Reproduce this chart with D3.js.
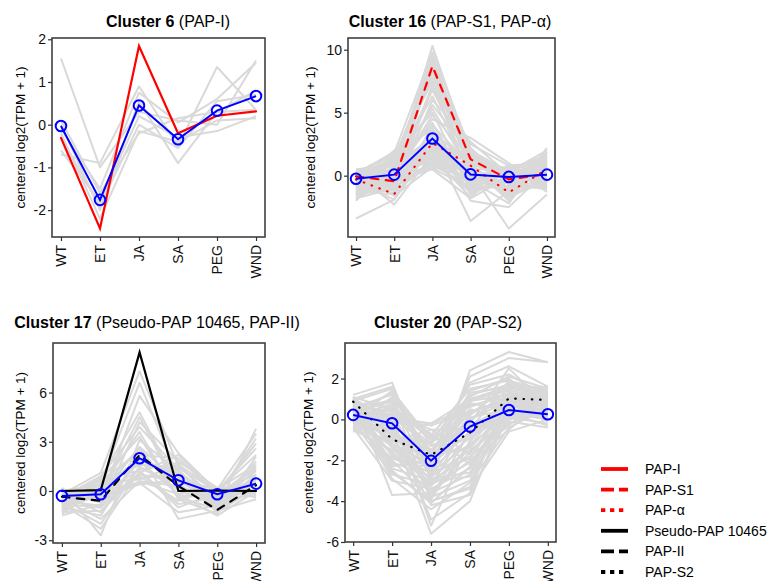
<!DOCTYPE html>
<html>
<head>
<meta charset="utf-8">
<script src="https://cdn.jsdelivr.net/npm/d3@7"></script>
<style>
  body { margin: 0; background: #fff; }
  text { font-family: "Liberation Sans", Arial, sans-serif; }
</style>
</head>
<body>
<svg id="chart" width="769" height="581"></svg>
<script>
const conditions = ["WT", "ET", "JA", "SA", "PEG", "WND"];

// Cluster 6: member genes (grey), cluster mean (blue), highlighted genes
const c6Members = [
  [1.55, -1.0, 0.3, 0.1, 0.0, 1.5],
  [-0.7, -0.9, 0.9, -0.5, 1.35, 0.35],
  [-0.1, -1.5, 0.75, 0.05, 0.6, 1.45],
  [0.0, -2.0, 0.55, -0.9, 0.3, 0.8],
  [-0.6, -1.8, 0.2, -0.3, -0.15, 0.2],
  [-0.2, -2.2, -0.15, -0.4, 0.1, 0.15],
  [0.1, -1.6, -0.2, 0.15, 0.3, 0.35],
  [-0.3, -1.9, 0.0, -0.55, 0.55, 0.7]
];
const c6Mean = [-0.03, -1.76, 0.45, -0.34, 0.33, 0.67];
const c6Genes = [
  { gene: "PAP-I", values: [-0.31, -2.43, 1.84, -0.2, 0.21, 0.31] }
];

// Cluster 16
const c16Members = [
  [-0.5, 0.3, 10.3, 1.5, -0.5, 0.2],
  [0.2, 1.8, 9.8, 2.0, 0.3, -0.3],
  [-1.0, 0.5, 9.2, 0.5, -1.0, 0.8],
  [0.4, -0.5, 8.5, 1.0, 0.6, -0.8],
  [-1.5, 1.2, 7.8, -0.5, -0.3, 1.5],
  [-0.3, -1.0, 7.0, 2.5, 0.8, 0.3],
  [-1.8, 0.8, 6.3, 0.0, -1.5, -0.5],
  [0.0, -0.2, 5.6, 1.8, 0.2, 1.0],
  [-0.8, 1.5, 5.0, -1.0, -0.8, 0.6],
  [0.5, 0.0, 4.5, 3.0, 1.0, -1.2],
  [-1.2, -1.5, 4.0, 0.8, -2.0, 2.2],
  [-0.6, 2.0, 3.6, -1.5, 0.0, -0.2],
  [-3.4, -1.9, 3.3, -0.3, -0.6, 1.8],
  [0.1, 0.9, 3.0, -2.0, -2.5, 0.4],
  [-1.6, -0.8, 2.8, 1.2, 0.5, -1.0],
  [-0.2, 1.0, 2.6, -3.6, -1.2, 0.9],
  [-1.9, 0.2, 2.4, 0.3, -4.2, -1.5],
  [0.3, -1.2, 2.2, -0.8, 0.4, 1.2],
  [-1.1, 1.6, 2.0, 0.6, -1.8, 0.0],
  [-0.4, -0.6, 1.9, -1.2, 0.9, -0.6],
  [-1.4, 0.6, 1.8, 1.6, -0.2, 1.4],
  [0.2, -2.3, 1.7, -0.6, 0.1, -0.4],
  [-0.9, 1.3, 1.6, 0.9, -1.4, 0.7],
  [-0.1, 0.4, 1.5, -1.7, 0.7, -1.3],
  [-1.7, -0.3, 1.4, 0.2, -0.9, 0.5],
  [0.4, 1.1, 1.3, -0.4, -2.2, 1.9],
  [-0.7, -1.4, 1.2, 1.4, 0.3, -0.9],
  [-1.3, 0.7, 1.1, -1.3, -0.4, 0.1],
  [0.0, -0.9, 1.0, 0.4, -1.6, 1.1],
  [-2.0, 1.4, 0.9, -0.9, 0.6, -0.1],
  [-0.5, -0.1, 0.8, 2.2, -0.7, 1.6],
  [0.3, -1.6, 0.7, -0.2, 0.2, -0.7],
  [-1.0, 0.1, 0.6, 0.7, -1.1, 0.3],
  [-0.3, -0.4, 0.5, -1.8, -0.1, -0.2],
  [-1.5, 0.5, 2.5, 1.1, -0.5, 0.8],
  [0.1, -0.7, 3.2, -0.7, 0.4, -0.5],
  [-0.8, 1.0, 1.5, 0.1, -1.3, 1.0],
  [-0.2, -1.1, 2.1, 1.7, 0.0, -0.3],
  [-1.2, 0.3, 4.2, -1.1, -0.8, 0.6],
  [0.5, 0.8, 1.9, 0.5, 0.5, -0.8],
  [-0.6, 0.9, 9.5, 1.2, -0.2, 0.4],
  [0.0, -0.4, 9.0, 0.8, 0.5, -0.5],
  [-1.1, 1.4, 8.8, 2.2, -0.7, 1.1],
  [-0.2, 0.2, 8.2, 0.2, 0.2, 0.0],
  [0.3, 1.6, 7.5, 1.6, -1.2, 0.9],
  [-1.4, -0.6, 7.2, -0.2, 0.7, -0.6],
  [-0.4, 0.6, 6.8, 1.0, -0.4, 1.3],
  [-0.9, -1.2, 6.0, 2.7, 0.1, 0.2],
  [0.2, 1.1, 5.3, 0.4, -1.0, -0.9],
  [-1.6, 0.0, 4.8, 1.4, 0.4, 1.7],
  [-0.7, 1.7, 3.8, -0.6, -0.3, 0.5],
  [0.4, -0.9, 3.5, 0.9, -1.7, -0.4],
  [-1.3, 0.4, 2.9, -1.4, 0.8, 1.0],
  [-0.5, -1.9, 2.3, 0.0, -0.6, -1.1],
  [0.1, 1.9, 1.8, 1.9, -0.1, 0.6],
  [-1.8, -1.0, 1.2, -0.5, 0.3, 2.0],
  [-0.3, 0.9, 0.9, 0.6, -1.0, -0.3],
  [-1.0, -0.5, 0.6, -1.0, 0.6, 1.4],
  [0.2, 0.1, 1.4, 1.0, -0.2, 0.2],
  [-0.8, 1.2, 2.7, 0.3, -0.9, -0.7]
];
const c16Mean = [-0.24, 0.08, 2.95, 0.1, -0.1, 0.08];
const c16Genes = [
  { gene: "PAP-S1", values: [-0.05, -0.45, 8.7, 1.3, -0.3, 0.15] },
  { gene: "PAP-α", values: [-0.3, -1.46, 2.6, 0.8, -1.33, 0.5] }
];

// Cluster 17
const c17Members = [
  [-0.2, 1.1, 7.3, 1.5, -0.5, 0.5],
  [-0.8, 0.5, 6.6, 0.8, -1.0, 3.8],
  [0.1, -0.5, 5.8, 2.3, 0.0, 1.0],
  [-1.2, 0.8, 4.8, 0.2, -0.3, 3.2],
  [-0.5, -1.0, 4.2, 1.8, 0.2, -0.2],
  [-1.4, 0.2, 3.6, -0.5, -1.4, 2.1],
  [0.2, -2.7, 3.1, 1.2, -0.6, 0.8],
  [-0.9, -0.3, 2.7, 0.5, 0.1, 1.6],
  [-0.3, 0.6, 2.4, -1.7, -1.2, -0.5],
  [-1.0, -1.5, 2.2, 2.0, -0.2, 0.3],
  [-0.6, 0.1, 2.0, 0.9, -0.8, 1.3],
  [-1.5, -0.8, 1.8, -0.2, -1.5, 0.0],
  [0.0, 0.4, 1.6, 1.4, 0.0, 2.6],
  [-0.7, -2.0, 1.5, 0.1, -0.4, -0.3],
  [-1.1, -0.2, 1.3, 1.7, -1.0, 1.0],
  [-0.4, 0.9, 1.2, -1.0, -0.1, 0.6],
  [-1.3, -1.2, 1.0, 0.6, -0.7, 1.8],
  [-0.1, -0.6, 0.9, -0.6, 0.2, -0.4],
  [-0.9, 0.3, 0.8, 1.0, -1.3, 0.2],
  [-0.5, -1.7, 0.6, 0.3, -0.5, 1.2],
  [-1.2, 0.0, 0.5, -1.3, -0.9, 0.4],
  [0.1, -0.4, 0.4, 0.7, 0.1, -0.1],
  [-0.8, -1.0, 1.1, 2.2, -0.2, 2.9],
  [-0.3, 0.7, 3.3, -0.4, -1.1, 0.7],
  [-0.6, -0.9, 1.9, 1.1, -0.6, 0.9],
  [-1.0, 0.2, 2.6, -0.3, -0.3, 1.5],
  [-0.2, -1.3, 1.4, 0.4, -1.0, 0.1],
  [-1.3, 0.5, 0.7, 1.6, 0.0, 2.2],
  [-0.4, -0.1, 4.5, 0.0, -0.8, 0.5],
  [-0.8, -2.3, 1.2, -0.8, -0.4, 1.4],
  [-1.1, 0.9, 3.9, 1.3, -1.2, 0.2],
  [0.0, -0.7, 0.6, -0.2, 0.1, 3.5]
];
const c17Mean = [-0.3, -0.2, 2.0, 0.65, -0.2, 0.45];
const c17Genes = [
  { gene: "Pseudo-PAP 10465", values: [0.0, 0.05, 8.45, 0.0, 0.02, 0.0] },
  { gene: "PAP-II", values: [-0.35, -0.6, 2.2, 0.3, -1.15, 0.35] }
];

// Cluster 20
const c20Members = [
  [1.2, 1.8, -3.0, 2.4, 3.3, 2.8],
  [0.9, 1.5, -2.5, 2.1, 3.0, 2.8],
  [0.6, 1.2, -1.8, 1.8, 2.6, 1.6],
  [0.3, 0.9, -0.8, 1.5, 1.9, 1.4],
  [0.0, 0.6, -1.0, 1.2, 1.7, 1.5],
  [-0.3, 0.3, -1.2, 0.9, 1.5, 1.2],
  [1.0, 0.0, -0.2, 0.6, 1.3, 1.0],
  [0.7, -0.3, -1.6, 0.3, 1.1, 0.8],
  [0.4, -0.6, -1.8, 0.0, 0.9, 0.6],
  [0.1, -0.9, -2.0, -0.3, 0.7, 0.4],
  [-0.2, -1.2, -2.2, -0.6, 0.5, 0.2],
  [-0.5, -1.5, -2.4, -0.9, 0.3, 0.0],
  [0.8, -1.8, -2.6, -1.2, 0.1, -0.2],
  [0.5, -2.1, -2.8, -1.5, -0.1, -0.4],
  [0.2, -2.4, -3.0, -1.8, -0.3, 1.3],
  [-0.1, -2.7, -3.2, -2.1, -0.5, 1.1],
  [-0.4, -3.0, -3.4, -2.4, 0.6, 0.9],
  [1.1, -3.7, -3.6, -2.7, 0.4, 0.7],
  [0.6, 0.4, -3.8, -3.0, 0.2, 0.5],
  [0.3, 1.0, -4.0, -3.3, 1.0, 0.3],
  [-0.6, -0.1, -4.9, -3.6, 1.4, 0.1],
  [0.0, -0.5, -5.6, -4.0, 0.8, -0.1],
  [0.9, 0.2, -5.2, -1.0, 1.2, 1.0],
  [0.4, -1.0, -1.1, -0.2, 2.5, 0.6],
  [-0.2, 0.7, -1.5, 0.5, 0.0, 0.9],
  [0.7, -0.8, -2.5, 1.0, 1.6, 1.2],
  [0.2, -1.6, -3.1, -0.7, 0.3, 0.2],
  [-0.4, 1.1, -1.7, -1.4, 0.6, 0.8],
  [1.0, -2.2, -2.3, 0.2, 1.8, 1.4],
  [0.5, -0.4, -3.5, -2.0, -0.2, 0.4],
  [0.1, 0.5, -0.9, 0.7, 1.1, 1.3],
  [-0.1, -1.3, -2.9, -2.6, 0.9, 0.0],
  [0.8, 0.1, -1.3, -0.4, 0.2, 1.1],
  [0.3, -2.0, -3.9, -1.1, 1.3, 0.7],
  [-0.3, -0.7, -2.1, 0.8, 0.4, 0.5],
  [0.6, -1.1, -0.5, -1.7, 0.7, 1.5],
  [0.0, 0.8, -2.7, 1.4, 2.0, 0.3],
  [0.4, -2.9, -4.4, -3.1, -0.4, 0.6],
  [-0.5, -0.2, -1.9, -0.8, 1.0, 1.0],
  [0.9, -1.4, -3.3, 0.1, 0.5, 0.2],
  [0.5, 0.1, -0.2, 1.0, 1.4, 1.1],
  [1.0, -0.1, -0.3, 0.4, 0.8, 0.9],
  [0.2, 0.3, -0.5, -0.5, 1.9, 1.3],
  [0.7, -0.5, -2.2, 0.9, 1.2, 0.6],
  [0.1, -1.7, -3.6, -1.6, 0.1, 0.9],
  [-0.2, 0.2, -2.8, -0.1, 1.5, 1.6],
  [0.9, -2.5, -4.1, -2.3, 0.5, 0.4],
  [0.4, 1.3, -1.2, 1.7, 2.2, 1.1],
  [-0.5, -1.0, -3.0, -2.8, 0.0, 0.3],
  [0.6, 0.9, -2.0, 0.4, 0.9, 0.7],
  [0.3, -2.6, -4.0, -3.4, -0.6, 0.0],
  [1.1, 0.5, -1.6, 1.3, 1.6, 1.3],
  [-0.3, -1.9, -2.6, -1.9, 0.8, 1.2],
  [0.8, -0.2, -3.8, -0.6, 0.3, -0.3],
  [0.0, 1.4, -1.0, 0.2, 1.7, 0.9],
  [0.5, -1.2, -3.2, -1.3, 1.1, 0.5],
  [-0.1, 0.6, -0.7, -2.2, 0.6, 1.0],
  [0.7, -2.3, -2.0, 1.1, 2.1, 1.5],
  [0.2, -0.7, -4.2, -3.7, 0.2, 0.6],
  [1.0, 1.6, -2.4, 0.0, 1.2, 0.8]
];
const c20Mean = [0.22, -0.19, -2.02, -0.35, 0.46, 0.25];
const c20Genes = [
  { gene: "PAP-S2", values: [0.87, -0.97, -1.74, -0.65, 1.03, 0.95] }
];

// legend entries
const legendGenes = ["PAP-I", "PAP-S1", "PAP-α", "Pseudo-PAP 10465", "PAP-II", "PAP-S2"];
const legendColors = ["#ff0000", "#ff0000", "#ff0000", "#000000", "#000000", "#000000"];
const legendTypes = ["solid", "dashed", "dotted", "solid", "dashed", "dotted"];

const geneStyle = {};
legendGenes.forEach((g, i) => geneStyle[g] = { color: legendColors[i], type: legendTypes[i] });

const plotDash = { solid: null, dashed: "7.5,7.5", dotted: "0.5,7.8" };
const keyDash = { solid: null, dashed: "13,5", dotted: "4.3,4.7" };

const panels = [
  { bold: "Cluster 6", rest: " (PAP-I)", members: c6Members, mean: c6Mean, genes: c6Genes,
    left: 52, right: 265, top: 38, bottom: 237, pad: 0.23, yDomain: [-2.63, 2.03], yTicks: [-2, -1, 0, 1, 2],
    titleX: 168, titleY: 27, labelX: 25 },
  { bold: "Cluster 16", rest: " (PAP-S1, PAP-α)", members: c16Members, mean: c16Mean, genes: c16Genes,
    left: 348, right: 555, top: 38, bottom: 237, pad: 0.21, yDomain: [-4.87, 10.93], yTicks: [0, 5, 10],
    titleX: 450, titleY: 27, labelX: 315 },
  { bold: "Cluster 17", rest: " (Pseudo-PAP 10465, PAP-II)", members: c17Members, mean: c17Mean, genes: c17Genes,
    left: 53, right: 265, top: 343, bottom: 543, pad: 0.23, yDomain: [-3.17, 9.02], yTicks: [-3, 0, 3, 6],
    titleX: 157, titleY: 328, labelX: 25 },
  { bold: "Cluster 20", rest: " (PAP-S2)", members: c20Members, mean: c20Mean, genes: c20Genes,
    left: 345, right: 556, top: 343, bottom: 542, pad: 0.21, yDomain: [-6.0, 3.74], yTicks: [-6, -4, -2, 0, 2],
    titleX: 448, titleY: 328, labelX: 313 }
];

const svg = d3.select("#chart");

panels.forEach((p, pi) => {
  const x = d3.scalePoint().domain(conditions).range([p.left, p.right]).padding(p.pad);
  const y = d3.scaleLinear().domain(p.yDomain).range([p.bottom, p.top]);
  const line = d3.line().x((d, i) => x(conditions[i])).y(d => y(d));

  const g = svg.append("g");

  g.append("clipPath").attr("id", "clip" + pi)
    .append("rect")
    .attr("x", p.left).attr("y", p.top)
    .attr("width", p.right - p.left).attr("height", p.bottom - p.top);

  const inner = g.append("g").attr("clip-path", `url(#clip${pi})`);

  inner.selectAll(".member")
    .data(p.members)
    .join("path")
    .attr("class", "member")
    .attr("d", line)
    .attr("fill", "none")
    .attr("stroke", "#d9d9d9")
    .attr("stroke-width", 2)
    .attr("stroke-linejoin", "round");

  inner.selectAll(".gene")
    .data(p.genes)
    .join("path")
    .attr("class", "gene")
    .attr("d", d => line(d.values))
    .attr("fill", "none")
    .attr("stroke", d => geneStyle[d.gene].color)
    .attr("stroke-width", 2.2)
    .attr("stroke-linecap", "round")
    .attr("stroke-dasharray", d => plotDash[geneStyle[d.gene].type]);

  // cluster mean
  g.append("path")
    .attr("d", line(p.mean))
    .attr("fill", "none")
    .attr("stroke", "#0000ff")
    .attr("stroke-width", 2);

  g.selectAll(".meanpt")
    .data(p.mean)
    .join("circle")
    .attr("class", "meanpt")
    .attr("cx", (d, i) => x(conditions[i]))
    .attr("cy", d => y(d))
    .attr("r", 5.3)
    .attr("fill", "none")
    .attr("stroke", "#0000ff")
    .attr("stroke-width", 2);

  g.append("rect")
    .attr("x", p.left).attr("y", p.top)
    .attr("width", p.right - p.left).attr("height", p.bottom - p.top)
    .attr("fill", "none")
    .attr("stroke", "#404040")
    .attr("stroke-width", 1.6);

  // y axis
  const ya = g.append("g")
    .attr("transform", `translate(${p.left},0)`)
    .call(d3.axisLeft(y).tickValues(p.yTicks).tickSize(4).tickPadding(2).tickFormat(d3.format("d")));
  ya.select(".domain").remove();
  ya.selectAll("line").attr("stroke", "#333").attr("stroke-width", 1.2);
  ya.selectAll("text").attr("font-size", 14).attr("fill", "#111")
    .text(d => d < 0 ? "-" + Math.abs(d) : d);

  // x axis
  const xa = g.append("g")
    .attr("transform", `translate(0,${p.bottom})`)
    .call(d3.axisBottom(x).tickSize(4));
  xa.select(".domain").remove();
  xa.selectAll("line").attr("stroke", "#333").attr("stroke-width", 1.2);
  xa.selectAll("text")
    .attr("font-size", 14).attr("fill", "#111")
    .attr("transform", "rotate(-90)")
    .attr("x", -8).attr("y", 0).attr("dy", "0.35em")
    .attr("text-anchor", "end");

  // axis title
  g.append("text")
    .attr("transform", `translate(${p.labelX},${(p.top + p.bottom) / 2}) rotate(-90)`)
    .attr("text-anchor", "middle")
    .attr("font-size", 13.5)
    .attr("fill", "#000")
    .text("centered log2(TPM + 1)");

  // title
  const t = g.append("text")
    .attr("x", p.titleX).attr("y", p.titleY)
    .attr("text-anchor", "middle")
    .attr("font-size", 16)
    .attr("fill", "#000");
  t.append("tspan").attr("font-weight", "bold").text(p.bold);
  t.append("tspan").text(p.rest);
});

// legend
const legend = svg.append("g").attr("transform", "translate(601,469)");
const rows = legend.selectAll("g")
  .data(legendGenes)
  .join("g")
  .attr("transform", (d, i) => `translate(0,${i * 20.6})`);
rows.append("line")
  .attr("x1", 0).attr("x2", 27)
  .attr("stroke", (d, i) => legendColors[i])
  .attr("stroke-width", 3.8)
  .attr("stroke-dasharray", (d, i) => keyDash[legendTypes[i]]);
rows.append("text")
  .attr("x", 44).attr("y", 5)
  .attr("font-size", 14)
  .attr("fill", "#000")
  .text(d => d);
</script>
</body>
</html>
